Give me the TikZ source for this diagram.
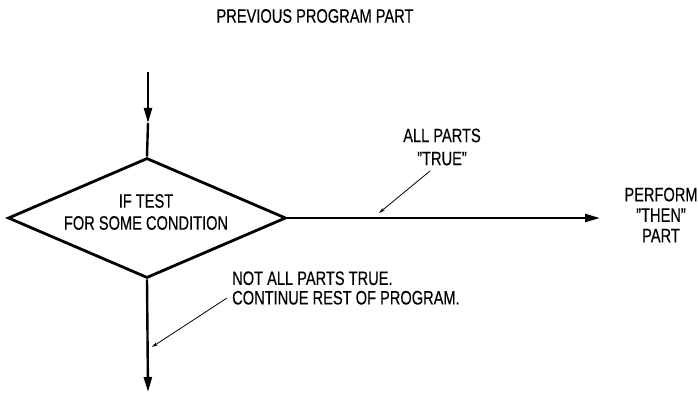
\documentclass[tikz,border=0pt]{standalone}
\usepackage{fontspec}
\setmainfont{Liberation Sans}[FakeStretch=0.75,FakeBold=0.3]
\usetikzlibrary{arrows.meta,shapes.geometric}
\begin{document}
\begin{tikzpicture}[x=1pt,y=-1pt,
  txt/.style={inner sep=0pt, align=center, font=\fontsize{19.5}{20.5}\selectfont},
  decision/.style={draw, diamond, line width=2.8pt, line join=miter,
    minimum width=278pt, minimum height=120pt, inner sep=0pt},
  trunk/.style={line width=2.4pt},
  flow/.style={line width=2.4pt, -{Triangle[length=15pt,width=8pt]}},
  leader/.style={line width=0.8pt, -{Stealth[length=6pt,width=3.5pt]}}]
\useasboundingbox (0,0) rectangle (698,393);

% decision box and its question
\node[decision] (dec) at (147,218) {};
\node[txt] (cond) at (146,212) {IF TEST\\[1.5pt]FOR SOME CONDITION};

% incoming flow from the previous part
\node[txt] (prev) at (315,16) {PREVIOUS PROGRAM PART};
\coordinate (entry) at (148,72);
\coordinate (entryhead) at (148,123);
\draw[flow] (entry) -- (entryhead);
\draw[trunk] (entryhead) -- (dec.north);

% true branch
\coordinate (thentip) at (600,218);
\draw[flow] (dec.east) -- (thentip);
\node[txt] (then) at (661,215) {PERFORM\\"THEN"\\PART};
\node[txt] (allp) at (442,147) {ALL PARTS\\[2.5pt]"TRUE"};
\coordinate (allpfoot) at (430,171);
\coordinate (allptip) at (379,213);
\draw[leader] (allpfoot) -- (allptip);

% false branch
\coordinate (exit) at (148,392);
\draw[flow] (dec.south) -- (exit);
\node[txt, align=left, anchor=west] (notall) at (232,288)
  {NOT ALL PARTS TRUE.\\[-1pt]CONTINUE REST OF PROGRAM.};
\coordinate (notallfoot) at (227,298);
\coordinate (notalltip) at (152,347);
\draw[leader] (notallfoot) -- (notalltip);
\end{tikzpicture}
\end{document}
